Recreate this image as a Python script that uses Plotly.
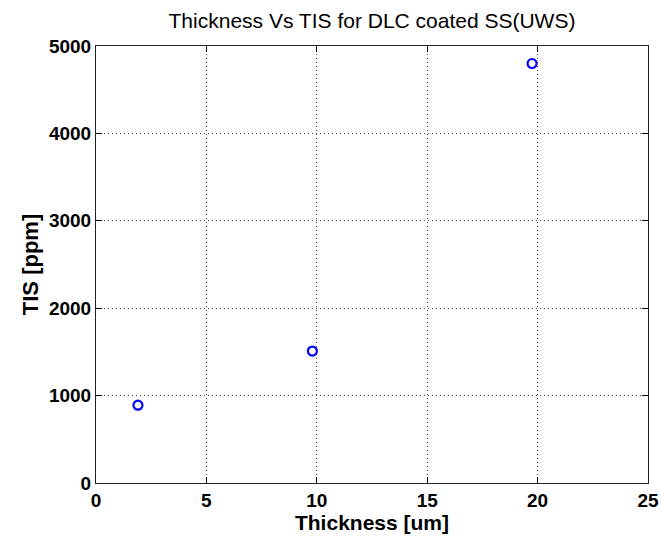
import plotly.graph_objects as go

thickness = [1.9, 9.8, 19.75]
tis = [890, 1510, 4800]

x_ticks = [0, 5, 10, 15, 20, 25]
y_ticks = [0, 1000, 2000, 3000, 4000, 5000]

FONT = "Liberation Sans, Arial"

fig = go.Figure()
fig.add_trace(go.Scatter(
    x=thickness, y=tis, mode="markers",
    marker=dict(symbol="circle-open", size=9, color="#0000ff", line=dict(width=2.2, color="#0000ff")),
    showlegend=False,
))

axis_common = dict(
    showline=True, linecolor="#222222", linewidth=1, mirror="ticks",
    ticks="inside", ticklen=6, tickcolor="black",
    showgrid=True, gridcolor="#444444", griddash="1px,3px", gridwidth=1,
    zeroline=False, ticklabeloverflow="allow", automargin=False,
    tickfont=dict(family=FONT, size=19, color="black", weight="bold"),
)

fig.update_layout(
    width=661, height=538,
    margin=dict(l=96, r=13, t=46, b=55, autoexpand=False),
    paper_bgcolor="white", plot_bgcolor="white",
    title=dict(text="Thickness Vs TIS for DLC coated SS(UWS)", x=0.5, xref="paper",
               xanchor="center", y=1 - 21 / 538, yanchor="middle",
               font=dict(family=FONT, size=21, color="black")),
    xaxis=dict(range=[0, 25], tickvals=x_ticks, ticktext=[str(v) for v in x_ticks],
               title=dict(text="Thickness [um]", standoff=2,
                          font=dict(family=FONT, size=21, color="black", weight="bold")),
               **axis_common),
    yaxis=dict(range=[0, 5000], tickvals=y_ticks, ticktext=[str(v) for v in y_ticks],
               title=dict(text="TIS [ppm]", standoff=4,
                          font=dict(family=FONT, size=22, color="black", weight="bold")),
               **axis_common),
)

fig.write_html("out.html")
